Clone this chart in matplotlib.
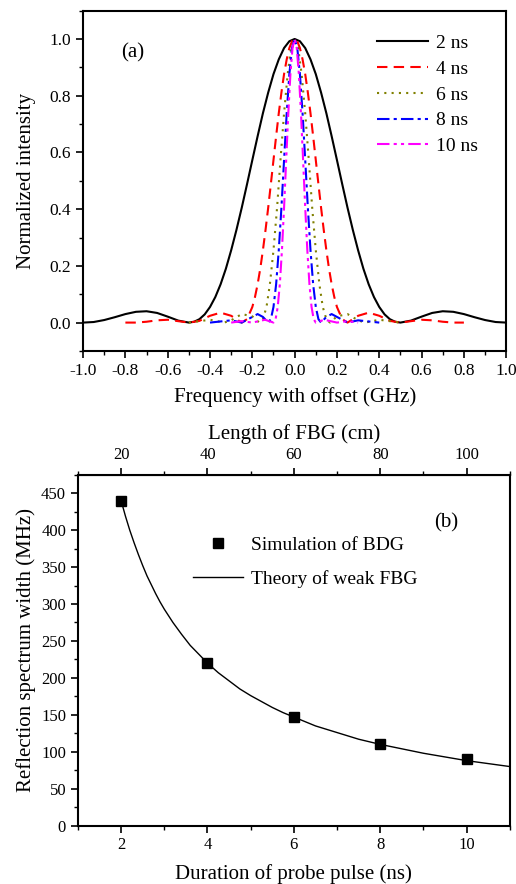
import numpy as np
import matplotlib
matplotlib.use("Agg")
import matplotlib.pyplot as plt
from matplotlib.ticker import MultipleLocator

plt.rcParams['font.family'] = ['Liberation Serif', 'DejaVu Serif']

# ---- panel (a): half spectra (offset >= 0), mirrored below
x2 = [0, .025, .05, .075, .1, .125, .15, .175, .2, .225, .25, .275, .3, .325, .35, .375, .4, .425, .45, .475,
      .5, .55, .6, .65, .7, .75, .8, .85, .9, .95, 1.0]
y2 = [1, .992, .968, .928, .876, .811, .738, .657, .573, .488, .405, .327, .255, .19, .135, .09, .055, .029, .012, .003,
      0, .007, .021, .034, .04, .038, .03, .019, .009, .002, 0]

x4 = [0, .0125, .025, .0375, .05, .0625, .075, .0875, .1, .1125, .125, .1375, .15, .1625, .175, .1875, .2, .225, .25,
      .3, .35, .4, .45, .5, .55, .6, .65, .7, .75, .8]
y4 = [1, .992, .968, .928, .876, .811, .738, .657, .573, .488, .405, .327, .255, .19, .135, .09, .055, .012, 0,
      .024, .035, .024, .006, 0, .005, .01, .008, .003, 0, 0]

x6 = [0, .017, .033, .05, .067, .083, .1, .117, .133, .15, .167, .2, .25, .3, .333, .4, .5]
y6 = [1, .968, .876, .738, .573, .405, .255, .135, .055, .012, 0, .022, .03, .008, 0, .01, 0]

x8 = [0, .0125, .025, .0375, .05, .0625, .075, .0875, .1, .1125, .125, .15, .175, .2, .25, .3, .4]
y8 = [1, .968, .876, .738, .573, .405, .255, .135, .055, .012, 0, .02, .03, .02, 0, .008, 0]

x10 = [0, .01, .02, .03, .04, .05, .06, .07, .08, .09, .1, .14, .2, .25, .3]
y10 = [1, .968, .876, .738, .573, .405, .255, .135, .055, .012, 0, .01, 0, .005, 0]

labels_a = ["2 ns", "4 ns", "6 ns", "8 ns", "10 ns"]
colors_a = ["black", "#ff0000", "#808000", "#0000ff", "#ff00ff"]
styles_a = ["-", (0, (5, 3)), (0, (1, 2.5)), (0, (6, 2, 1.5, 2)), (0, (6, 2, 1.5, 2, 1.5, 2))]

# ---- panel (b)
dur = [2, 4, 6, 8, 10]
width_sim = [440, 220, 147, 111, 90]
dur_th = [2, 2.1, 2.2, 2.3, 2.4, 2.5, 2.6, 2.7, 2.8, 2.9, 3.0, 3.2, 3.4, 3.6, 3.8, 4.0, 4.25, 4.5, 4.75,
          5, 5.25, 5.5, 5.75, 6, 6.5, 7, 7.5, 8, 8.5, 9, 9.5, 10, 10.5, 11]
width_th = [440, 419, 400, 383, 367, 352, 338, 326, 314, 303, 293, 275, 259, 244, 232, 220, 207, 196, 185,
            176, 168, 160, 153, 147, 135, 126, 117, 110, 104, 98, 93, 88, 84, 80]


def mirror(x, y):
    x = np.asarray(x, float)
    y = np.asarray(y, float)
    return np.concatenate([-x[::-1], x[1:]]), np.concatenate([y[::-1], y[1:]])


fig = plt.figure(figsize=(5.16, 8.84), dpi=100)
ax1 = fig.add_axes([0.161, 0.603, 0.820, 0.385])
ax2 = fig.add_axes([0.151, 0.066, 0.837, 0.397])

for (xs, ys), lab, c, ls in zip([(x2, y2), (x4, y4), (x6, y6), (x8, y8), (x10, y10)],
                                labels_a, colors_a, styles_a):
    xx, yy = mirror(xs, ys)
    ax1.plot(xx, yy, color=c, linestyle=ls, lw=1.5, label=lab)

ax1.set_xlim(-1.0, 1.0)
ax1.set_ylim(-0.1, 1.1)
xt = np.round(np.arange(-1.0, 1.01, 0.2), 1) + 0.0
yt = np.round(np.arange(0, 1.01, 0.2), 1)
ax1.set_xticks(xt)
ax1.set_xticklabels([f"{v:.1f}".replace("-0.0", "0.0") for v in xt])
ax1.set_yticks(yt)
ax1.set_yticklabels([f"{v:.1f}" for v in yt])
ax1.xaxis.set_minor_locator(MultipleLocator(0.1))
ax1.yaxis.set_minor_locator(MultipleLocator(0.1))
ax1.tick_params(which='major', direction='out', length=5, width=1.2, labelsize=12.5)
ax1.tick_params(which='minor', direction='out', length=3, width=1.0)
ax1.set_xlabel("Frequency with offset (GHz)", fontsize=15, labelpad=6)
ax1.set_ylabel("Normalized intensity", fontsize=15, labelpad=10)
ax1.text(-0.82, 0.95, "(a)", fontsize=15, ha='left', va='center')
ax1.legend(loc='upper right', bbox_to_anchor=(0.965, 0.97), frameon=False, fontsize=14,
           handlelength=2.6, handletextpad=0.4, labelspacing=0.42, borderaxespad=0.3)
for s in ax1.spines.values():
    s.set_linewidth(1.5)

# panel (b)
ax2.plot(dur_th, width_th, color='black', lw=1.0, label="Theory of weak FBG")
ax2.plot(dur, width_sim, 's', color='black', ms=7, label="Simulation of BDG")
ax2.set_xlim(1, 11)
ax2.set_ylim(0, 475)
ax2.set_xticks([2, 4, 6, 8, 10])
ax2.set_yticks(range(0, 451, 50))
ax2.xaxis.set_minor_locator(MultipleLocator(1))
ax2.yaxis.set_minor_locator(MultipleLocator(25))
ax2.tick_params(which='major', direction='out', length=5, width=1.2, labelsize=12)
ax2.tick_params(which='minor', direction='out', length=3, width=1.0)
ax2.set_xlabel("Duration of probe pulse (ns)", fontsize=15, labelpad=8)
ax2.set_ylabel("Reflection spectrum width (MHz)", fontsize=15, labelpad=4)
ax2.text(9.25, 410, "(b)", fontsize=15, ha='left', va='center')
h, l = ax2.get_legend_handles_labels()
ax2.legend([h[1], h[0]], [l[1], l[0]], loc='upper left', bbox_to_anchor=(0.225, 0.875),
           frameon=False, fontsize=14, handlelength=2.6, handletextpad=0.4,
           labelspacing=0.85)
for s in ax2.spines.values():
    s.set_linewidth(1.5)

top = ax2.secondary_xaxis('top', functions=(lambda d: d * 10, lambda L: L / 10))
top.set_xticks([20, 40, 60, 80, 100])
top.xaxis.set_minor_locator(MultipleLocator(10))
top.tick_params(which='major', direction='out', length=5, width=1.2, labelsize=12)
top.tick_params(which='minor', direction='out', length=3, width=1.0)
top.set_xlabel("Length of FBG (cm)", fontsize=15, labelpad=6)

fig.savefig("out.png", dpi=100)
